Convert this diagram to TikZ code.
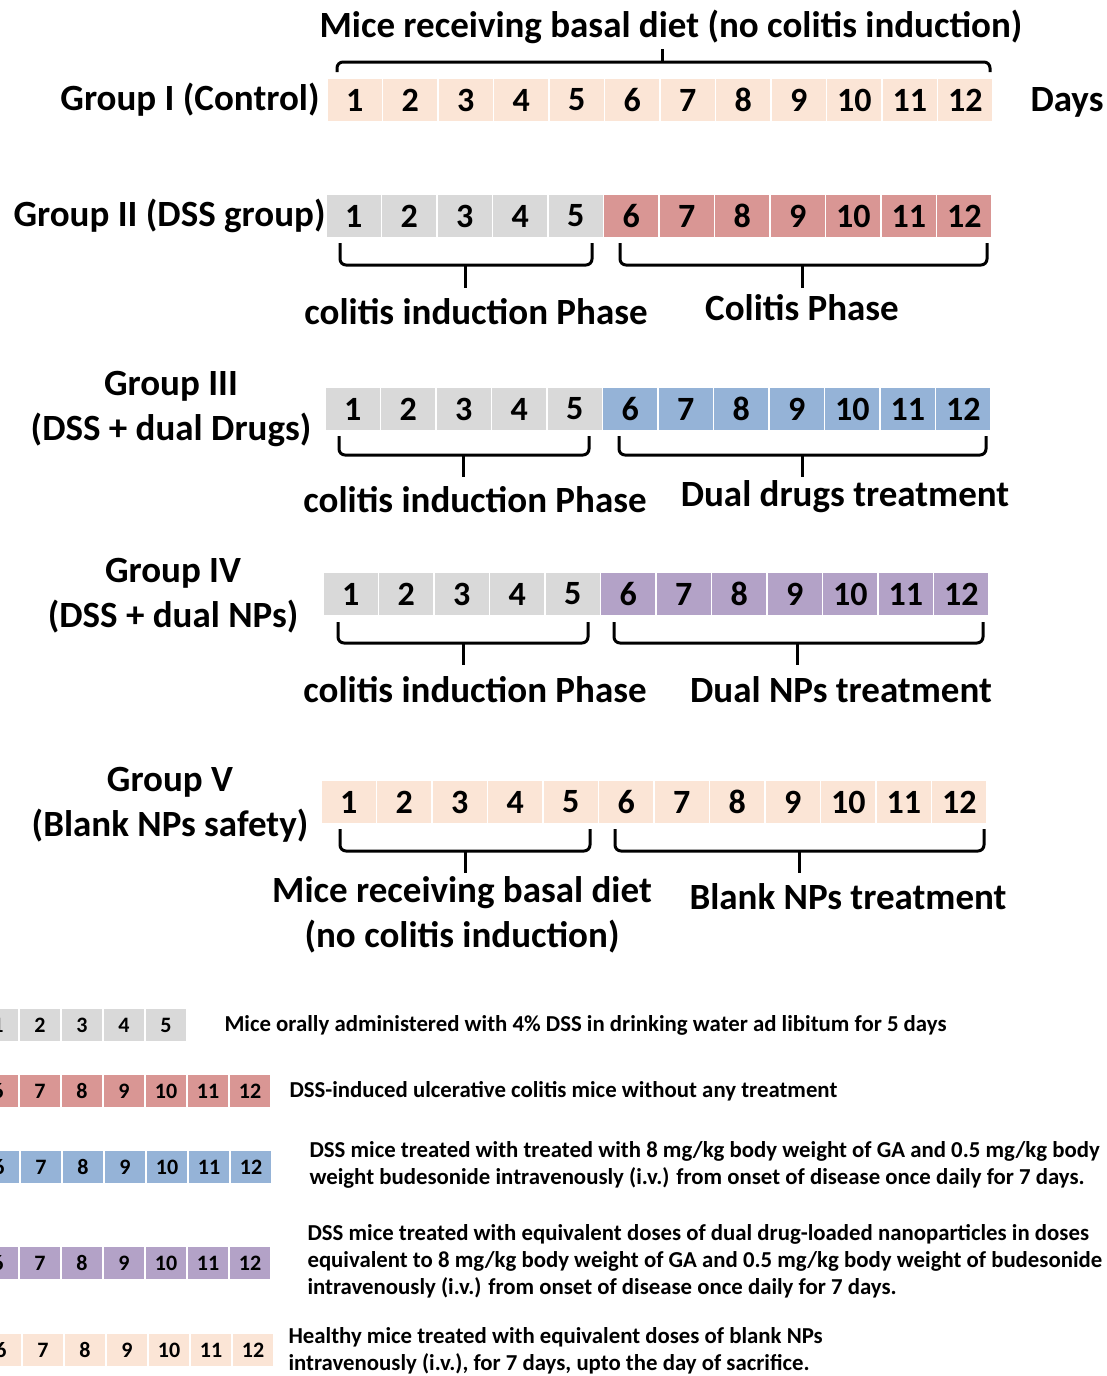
\documentclass[tikz,border=0pt]{standalone}
\usepackage{fontspec}
\setmainfont{Carlito}
\usetikzlibrary{calc}
\definecolor{peach}{HTML}{FBE5D6}
\definecolor{daygray}{HTML}{D9D9D9}
\definecolor{dssred}{HTML}{D99694}
\definecolor{drugblue}{HTML}{95B3D7}
\definecolor{nppurple}{HTML}{B3A2C7}

\begin{document}
\begin{tikzpicture}[x=1pt,y=1pt,
  font=\bfseries\fontsize{37}{45}\selectfont,
  day/.style={rectangle,draw=white,line width=1.2pt,minimum width=55.5pt,
    minimum height=44pt,inner sep=0pt,font=\bfseries\fontsize{34}{40}\selectfont},
  keyday/.style={day,minimum width=42pt,minimum height=34pt,
    font=\bfseries\fontsize{22}{24}\selectfont},
  brc/.style={line width=3pt,black,rounded corners=6pt},
  grp/.style={align=center},
  phase/.style={align=center},
  keytext/.style={anchor=west,align=left,font=\bfseries\fontsize{22.8}{27}\selectfont}
]
\useasboundingbox (0,0) rectangle (1107,-1376);

% Day strips of the five groups
\foreach \g/\xl/\yc/\early/\late in {1/327/100/peach/peach, 2/326/216/daygray/dssred,
    3/325/409/daygray/drugblue, 4/323/594/daygray/nppurple, 5/321/802/peach/peach}{
  \foreach \d in {1,...,5}
    \node[day,fill=\early] (g\g d\d) at ({\xl+(\d-0.5)*55.5},-\yc) {\d};
  \foreach \d in {6,...,12}
    \node[day,fill=\late] (g\g d\d) at ({\xl+(\d-0.5)*55.5},-\yc) {\d};
}

% Group names
\node[anchor=east] (n1) at (323,-100) {Group I (Control)};
\node[anchor=east] (n2) at (329,-216) {Group II (DSS group)};
\node[grp] (n3) at (171,-409) {Group III\\(DSS + dual Drugs)};
\node[grp] (n4) at (173,-596) {Group IV\\(DSS + dual NPs)};
\node[grp] (n5) at (170,-805) {Group V\\(Blank NPs safety)};
\node[anchor=west] (days) at (1027,-102) {Days};

% Braces
\draw[brc] (337,-72) -- (337,-62) -- (990,-62) -- (990,-72);
\draw[brc] (662,-62) -- (662,-49);
\draw[brc] (340,-243) -- (340,-265) -- (592,-265) -- (592,-243);
\draw[brc] (465,-265) -- (465,-288);
\draw[brc] (620,-243) -- (620,-265) -- (987,-265) -- (987,-243);
\draw[brc] (802,-265) -- (802,-288);
\draw[brc] (339,-436) -- (339,-455) -- (589,-455) -- (589,-436);
\draw[brc] (463,-455) -- (463,-477);
\draw[brc] (619,-436) -- (619,-455) -- (986,-455) -- (986,-436);
\draw[brc] (802,-455) -- (802,-477);
\draw[brc] (338,-622) -- (338,-643) -- (588,-643) -- (588,-622);
\draw[brc] (463,-643) -- (463,-665);
\draw[brc] (614,-622) -- (614,-643) -- (983,-643) -- (983,-622);
\draw[brc] (797,-643) -- (797,-665);
\draw[brc] (340,-829) -- (340,-851) -- (590,-851) -- (590,-829);
\draw[brc] (465,-851) -- (465,-873);
\draw[brc] (615,-829) -- (615,-851) -- (984,-851) -- (984,-829);
\draw[brc] (799,-851) -- (799,-873);

% Phase labels
\node[phase] (p1) at (671,-27) {Mice receiving basal diet (no colitis induction)};
\node[phase] (p2a) at (476,-312) {colitis induction Phase};
\node[phase] (p2b) at (802,-308) {Colitis Phase};
\node[phase] (p3a) at (475,-500) {colitis induction Phase};
\node[phase] (p3b) at (845,-497) {Dual drugs treatment};
\node[phase] (p4a) at (475,-690) {colitis induction Phase};
\node[phase] (p4b) at (841,-690) {Dual NPs treatment};
\node[phase] (p5a) at (462,-915) {Mice receiving basal diet\\(no colitis induction)};
\node[phase] (p5b) at (848,-897) {Blank NPs treatment};

% Key strips
\foreach \d in {1,...,5}
  \node[keyday,fill=daygray] (k1d\d) at ({-2+(\d-1)*42},-1025) {\d};
\foreach \k/\xs/\yc/\col in {2/-2/1091/dssred, 3/-1/1167/drugblue,
    4/-2/1263/nppurple, 5/1/1350/peach}
  \foreach \d in {6,...,12}
    \node[keyday,fill=\col] (k\k d\d) at ({\xs+(\d-6)*42},-\yc) {\d};

% Key texts
\node[keytext] (t1) at (221,-1025) {Mice orally administered with 4\% DSS in drinking water ad libitum for 5 days};
\node[keytext] (t2) at (286,-1091) {DSS-induced ulcerative colitis mice without any treatment};
\node[keytext] (t3) at (306,-1165) {DSS mice treated with treated with 8 mg/kg body weight of GA and 0.5 mg/kg body\\weight budesonide intravenously (i.v.) from onset of disease once daily for 7 days.};
\node[keytext] (t4) at (304,-1261) {DSS mice treated with equivalent doses of dual drug-loaded nanoparticles in doses\\equivalent to 8 mg/kg body weight of GA and 0.5 mg/kg body weight of budesonide\\intravenously (i.v.) from onset of disease once daily for 7 days.};
\node[keytext] (t5) at (285,-1351) {Healthy mice treated with equivalent doses of blank NPs\\intravenously (i.v.), for 7 days, upto the day of sacrifice.};

\end{tikzpicture}
\end{document}
